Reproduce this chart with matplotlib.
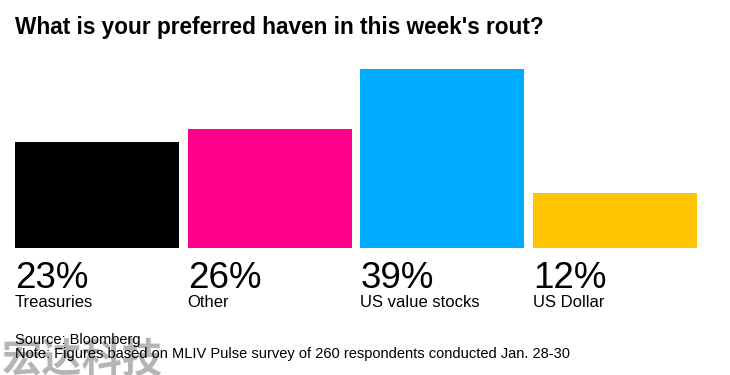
import matplotlib.pyplot as plt
from matplotlib.transforms import blended_transform_factory

# data
categories = ['Treasuries', 'Other', 'US value stocks', 'US Dollar']
shares = [23, 26, 39, 12]
colors = ['#000000', '#ff008c', '#00adff', '#ffc400']

W, H = 730, 375
fig = plt.figure(figsize=(W / 100, H / 100), dpi=100)

# axes placed in pixel terms: bars span x 15..697, baseline y=248, top of 39% bar y=69
left, right, bottom, top = 15, 697, 248, 69
ax = fig.add_axes([left / W, (H - bottom) / H, (right - left) / W, (bottom - top) / H])

bar_w = 164 / 173
xs = range(len(categories))
ax.bar(xs, shares, width=bar_w, align='edge', color=colors)
ax.set_xlim(0, len(categories) - 1 + bar_w)
ax.set_ylim(0, max(shares))
ax.axis('off')

tr = blended_transform_factory(ax.transData, fig.transFigure)
for x, v, c in zip(xs, shares, categories):
    ax.text(x, 1 - 288 / H, f'{v}%', transform=tr, fontsize=26.5, family='Liberation Sans',
            ha='left', va='baseline', color='#000000')
    ax.text(x, 1 - 307 / H, c, transform=tr, fontsize=12, family='Liberation Sans',
            ha='left', va='baseline', color='#000000')

fig.text(15 / W, 1 - 34 / H, "What is your preferred haven in this week's rout?",
         fontsize=16.3, fontweight='bold', family=['Liberation Sans Narrow', 'Liberation Sans'],
         ha='left', va='baseline')

# watermark
fig.text(2 / W, 1 - 372 / H, '宏达科技', fontsize=29, fontweight='bold',
         family=['Noto Sans CJK SC', 'DejaVu Sans'], color='#a8a8a8', alpha=0.85,
         ha='left', va='baseline')

fig.text(15 / W, 1 - 344 / H, 'Source: Bloomberg', fontsize=10.5, family='Liberation Sans',
         ha='left', va='baseline')
fig.text(15 / W, 1 - 358 / H,
         'Note: Figures based on MLIV Pulse survey of 260 respondents conducted Jan. 28-30',
         fontsize=10.5, family='Liberation Sans', ha='left', va='baseline')

fig.savefig('out.png', dpi=100, facecolor='white')
